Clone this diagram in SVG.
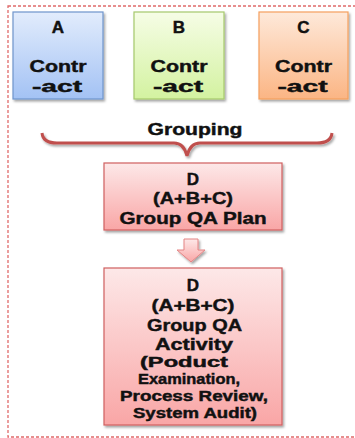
<svg xmlns="http://www.w3.org/2000/svg" width="355" height="438" viewBox="0 0 355 438">
<style>
text{font-family:"Liberation Sans",Arial,sans-serif;font-weight:bold;fill:#111;stroke:#111;stroke-width:0.45;text-anchor:middle}
.big{font-size:17px}
.small{font-size:14.5px}
.top{font-size:17px}
</style>
<defs>
<linearGradient id="gA" x1="0" y1="0" x2="0" y2="1"><stop offset="0" stop-color="#e2ecfc"/><stop offset="1" stop-color="#a3c2f4"/></linearGradient>
<linearGradient id="gB" x1="0" y1="0" x2="0" y2="1"><stop offset="0" stop-color="#f6fde6"/><stop offset="1" stop-color="#d3f2a0"/></linearGradient>
<linearGradient id="gC" x1="0" y1="0" x2="0" y2="1"><stop offset="0" stop-color="#fee9da"/><stop offset="1" stop-color="#fbb584"/></linearGradient>
<linearGradient id="gD" x1="0" y1="0" x2="0" y2="1"><stop offset="0" stop-color="#fde8e8"/><stop offset="1" stop-color="#f9a6a6"/></linearGradient>
<filter id="sh" x="-10%" y="-10%" width="130%" height="130%"><feDropShadow dx="1.5" dy="2" stdDeviation="1.2" flood-color="#000" flood-opacity="0.35"/></filter>
</defs>
<rect x="8" y="6" width="360" height="431" fill="none" stroke="#e06a6a" stroke-width="1.3" stroke-dasharray="3,2"/>
<g id="A">
<rect x="13" y="12" width="90" height="87" fill="url(#gA)" stroke="#6f95cc" stroke-width="1.2" filter="url(#sh)"/>
<text class="top" x="58" y="33">A</text>
<text class="top" x="58" y="72" textLength="57" lengthAdjust="spacingAndGlyphs">Contr</text>
<text class="top" x="57" y="92" textLength="50" lengthAdjust="spacingAndGlyphs">-act</text>
</g>
<g id="B">
<rect x="134" y="12" width="90" height="87" fill="url(#gB)" stroke="#a6c96c" stroke-width="1.2" filter="url(#sh)"/>
<text class="top" x="179" y="33">B</text>
<text class="top" x="179" y="72" textLength="57" lengthAdjust="spacingAndGlyphs">Contr</text>
<text class="top" x="178" y="92" textLength="50" lengthAdjust="spacingAndGlyphs">-act</text>
</g>
<g id="C">
<rect x="259" y="12" width="89" height="87" fill="url(#gC)" stroke="#f5a05e" stroke-width="1.2" filter="url(#sh)"/>
<text class="top" x="303.5" y="33">C</text>
<text class="top" x="303.5" y="72" textLength="57" lengthAdjust="spacingAndGlyphs">Contr</text>
<text class="top" x="302.5" y="92" textLength="50" lengthAdjust="spacingAndGlyphs">-act</text>
</g>
<g id="connectors">
<text class="big" x="195" y="135" textLength="95" lengthAdjust="spacingAndGlyphs">Grouping</text>
<path d="M42,133 Q43,143 57,143 L174,143 Q184,143 187,156 Q190,143 200,143 L317,143 Q331,143 332,133" fill="none" stroke="#c0504d" stroke-width="3" filter="url(#sh)"/>
<path d="M184,239 L198,239 L198,250 L205,250 L191,262 L177,250 L184,250 Z" fill="url(#gD)" stroke="#e48484" stroke-width="1" filter="url(#sh)"/>
</g>
<g id="D_plan">
<rect x="104" y="163" width="178" height="67" fill="url(#gD)" stroke="#d06060" stroke-width="1.2" filter="url(#sh)"/>
<text class="big" x="193" y="185">D</text>
<text class="big" x="193" y="204" textLength="80" lengthAdjust="spacingAndGlyphs">(A+B+C)</text>
<text class="big" x="193" y="224" textLength="147" lengthAdjust="spacingAndGlyphs">Group QA Plan</text>
</g>
<g id="D_activity">
<rect x="104" y="268" width="178" height="157" fill="url(#gD)" stroke="#d06060" stroke-width="1.2" filter="url(#sh)"/>
<text class="big" x="193" y="291">D</text>
<text class="big" x="193" y="311" textLength="83" lengthAdjust="spacingAndGlyphs">(A+B+C)</text>
<text class="big" x="194.5" y="331" textLength="95" lengthAdjust="spacingAndGlyphs">Group QA</text>
<text class="big" x="194" y="350" textLength="78" lengthAdjust="spacingAndGlyphs">Activity</text>
<text class="small" x="184" y="367" textLength="88" lengthAdjust="spacingAndGlyphs">(Poduct</text>
<text class="small" x="189" y="384" textLength="102" lengthAdjust="spacingAndGlyphs">Examination,</text>
<text class="small" x="194" y="401" textLength="148" lengthAdjust="spacingAndGlyphs">Process Review,</text>
<text class="small" x="195" y="418" textLength="124" lengthAdjust="spacingAndGlyphs">System Audit)</text>
</g>
</svg>
